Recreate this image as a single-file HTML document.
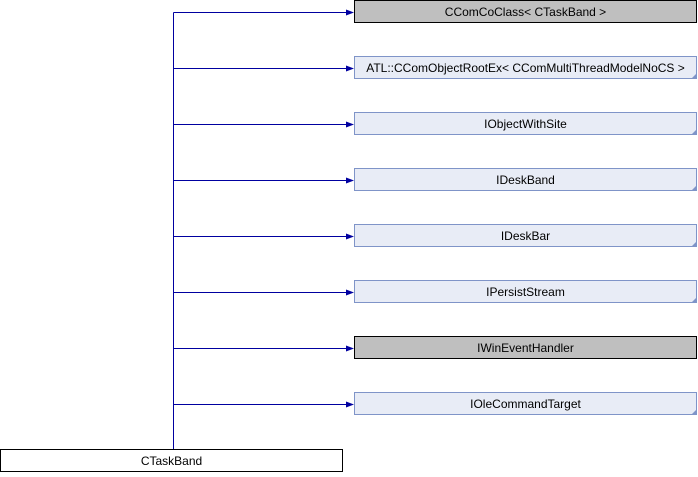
<!DOCTYPE html>
<html><head><style>body{margin:0;background:#fff}</style></head><body>
<svg width="698" height="472" xmlns="http://www.w3.org/2000/svg" font-family="Liberation Sans, sans-serif" font-size="12">
<line x1="173.5" y1="12.5" x2="173.5" y2="449" stroke="#0000a0"/>
<g stroke="#0000a0">
<line x1="173.5" y1="12.5" x2="348" y2="12.5"/>
<line x1="173.5" y1="68.5" x2="348" y2="68.5"/>
<line x1="173.5" y1="124.5" x2="348" y2="124.5"/>
<line x1="173.5" y1="180.5" x2="348" y2="180.5"/>
<line x1="173.5" y1="236.5" x2="348" y2="236.5"/>
<line x1="173.5" y1="292.5" x2="348" y2="292.5"/>
<line x1="173.5" y1="348.5" x2="348" y2="348.5"/>
<line x1="173.5" y1="404.5" x2="348" y2="404.5"/>
</g>
<g fill="#0000a0">
<polygon points="354,12.5 346,9.5 346,15.5"/>
<polygon points="354,68.5 346,65.5 346,71.5"/>
<polygon points="354,124.5 346,121.5 346,127.5"/>
<polygon points="354,180.5 346,177.5 346,183.5"/>
<polygon points="354,236.5 346,233.5 346,239.5"/>
<polygon points="354,292.5 346,289.5 346,295.5"/>
<polygon points="354,348.5 346,345.5 346,351.5"/>
<polygon points="354,404.5 346,401.5 346,407.5"/>
</g>
<rect x="354.5" y="0.5" width="342" height="22" fill="#bfbfbf" stroke="#000"/>
<rect x="354.5" y="336.5" width="342" height="22" fill="#bfbfbf" stroke="#000"/>
<g fill="#e8ecf6" stroke="#7f94c8">
<rect x="354.5" y="56.5" width="342" height="22"/>
<rect x="354.5" y="112.5" width="342" height="22"/>
<rect x="354.5" y="168.5" width="342" height="22"/>
<rect x="354.5" y="224.5" width="342" height="22"/>
<rect x="354.5" y="280.5" width="342" height="22"/>
<rect x="354.5" y="392.5" width="342" height="22"/>
</g>
<g fill="#7f94c8">
<polygon points="697,73 697,79 691,79"/>
<polygon points="697,129 697,135 691,135"/>
<polygon points="697,185 697,191 691,191"/>
<polygon points="697,241 697,247 691,247"/>
<polygon points="697,297 697,303 691,303"/>
<polygon points="697,409 697,415 691,415"/>
</g>
<g text-anchor="middle" fill="#000">
<text x="525.5" y="16">CComCoClass&lt; CTaskBand &gt;</text>
<text x="525.5" y="72">ATL::CComObjectRootEx&lt; CComMultiThreadModelNoCS &gt;</text>
<text x="525.5" y="128">IObjectWithSite</text>
<text x="525.5" y="184">IDeskBand</text>
<text x="525.5" y="240">IDeskBar</text>
<text x="525.5" y="296">IPersistStream</text>
<text x="525.5" y="352">IWinEventHandler</text>
<text x="525.5" y="408">IOleCommandTarget</text>
</g>
<rect x="0.5" y="449.5" width="342" height="22" fill="#fff" stroke="#000"/>
<text x="171.5" y="465" text-anchor="middle">CTaskBand</text>
</svg>
</body></html>
